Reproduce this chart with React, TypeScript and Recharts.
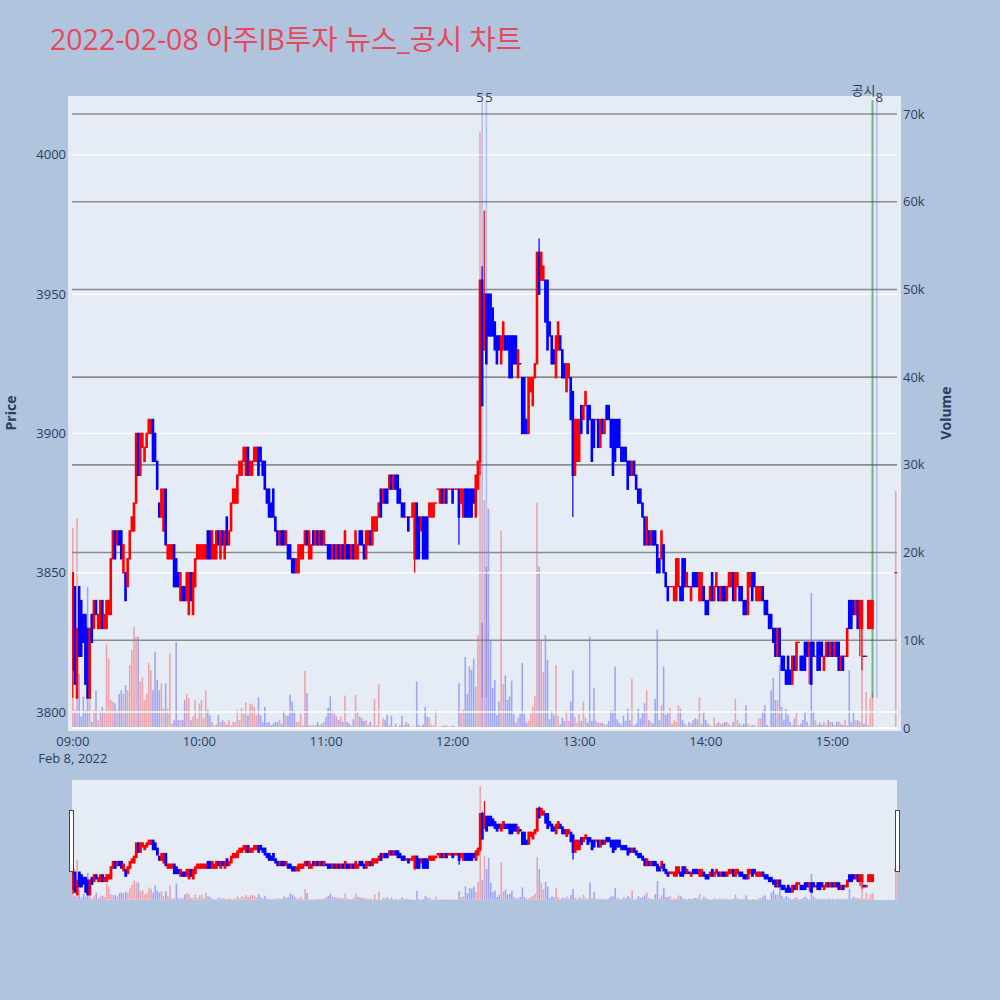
import React from 'react';
import { ComposedChart, Bar, XAxis, YAxis, ReferenceLine } from 'recharts';

// 1-minute candles from 09:00 (index = minutes after open); last entry is the 15:30 closing auction
const opens = [
  3815, 3845, 3805, 3845, 3840, 3835, 3835, 3830, 3805, 3835,
  3830, 3840, 3830, 3830, 3840, 3830, 3830, 3835, 3835, 3855,
  3865, 3860, 3865, 3865, 3850, 3850, 3845, 3855, 3865, 3865,
  3875, 3900, 3885, 3895, 3890, 3895, 3900, 3900, 3905, 3900,
  3890, 3875, 3870, 3865, 3880, 3855, 3855, 3855, 3860, 3855,
  3850, 3840, 3845, 3845, 3840, 3835, 3850, 3835, 3845, 3855,
  3855, 3855, 3855, 3855, 3865, 3865, 3855, 3855, 3855, 3865,
  3855, 3865, 3855, 3870, 3860, 3865, 3875, 3875, 3875, 3885,
  3885, 3890, 3885, 3895, 3885, 3885, 3890, 3890, 3895, 3895,
  3890, 3890, 3880, 3880, 3875, 3880, 3870, 3865, 3860, 3865,
  3865, 3860, 3860, 3860, 3855, 3855, 3850, 3850, 3855, 3855,
  3860, 3865, 3855, 3855, 3865, 3860, 3865, 3860, 3865, 3860,
  3860, 3860, 3860, 3855, 3860, 3855, 3860, 3855, 3860, 3855,
  3860, 3860, 3855, 3860, 3855, 3855, 3865, 3865, 3860, 3855,
  3860, 3865, 3860, 3865, 3865, 3870, 3880, 3875, 3880, 3880,
  3880, 3885, 3880, 3885, 3885, 3880, 3875, 3875, 3870, 3870,
  3870, 3870, 3855, 3875, 3870, 3865, 3870, 3870, 3870, 3870,
  3870, 3870, 3875, 3880, 3875, 3880, 3875, 3880, 3880, 3880,
  3880, 3880, 3880, 3880, 3875, 3870, 3880, 3880, 3880, 3880,
  3880, 3870, 3880, 3890, 3955, 3930, 3950, 3950, 3950, 3945,
  3940, 3935, 3935, 3925, 3930, 3935, 3935, 3935, 3935, 3935,
  3935, 3920, 3925, 3920, 3920, 3905, 3900, 3915, 3910, 3920,
  3925, 3965, 3955, 3955, 3955, 3955, 3940, 3935, 3930, 3920,
  3930, 3935, 3930, 3925, 3915, 3920, 3920, 3915, 3885, 3890,
  3890, 3910, 3905, 3910, 3910, 3910, 3905, 3905, 3905, 3905,
  3895, 3905, 3900, 3910, 3910, 3905, 3905, 3905, 3905, 3905,
  3895, 3895, 3895, 3890, 3890, 3885, 3890, 3885, 3880, 3880,
  3875, 3870, 3860, 3865, 3860, 3865, 3865, 3860, 3855, 3855,
  3860, 3850, 3845, 3845, 3845, 3840, 3840, 3845, 3845, 3855,
  3855, 3845, 3845, 3840, 3850, 3850, 3850, 3840, 3840, 3845,
  3840, 3840, 3840, 3850, 3840, 3845, 3845, 3840, 3845, 3845,
  3840, 3845, 3845, 3850, 3840, 3845, 3845, 3845, 3840, 3840,
  3835, 3845, 3850, 3850, 3840, 3840, 3840, 3845, 3840, 3840,
  3835, 3835, 3830, 3830, 3820, 3830, 3820, 3820, 3815, 3820,
  3815, 3810, 3820, 3815, 3825, 3820, 3820, 3825, 3825, 3820,
  3825, 3825, 3820, 3825, 3825, 3825, 3815, 3820, 3825, 3820,
  3825, 3820, 3825, 3825, 3815, 3820, 3820, 3820, 3840, 3840,
  3840, 3835, 3840, 3830, 3830, 3820, 3820, 3830, 3830, 3830,
  3850,
];

const closes = [
  3850, 3810, 3830, 3820, 3820, 3825, 3810, 3805, 3830, 3825,
  3840, 3835, 3835, 3840, 3830, 3835, 3840, 3840, 3855, 3865,
  3855, 3865, 3860, 3855, 3860, 3840, 3855, 3865, 3870, 3875,
  3900, 3885, 3900, 3900, 3895, 3900, 3905, 3905, 3890, 3890,
  3880, 3870, 3880, 3880, 3860, 3860, 3860, 3860, 3845, 3845,
  3845, 3850, 3840, 3840, 3850, 3850, 3840, 3850, 3855, 3860,
  3860, 3860, 3860, 3860, 3855, 3855, 3865, 3860, 3865, 3860,
  3865, 3860, 3865, 3860, 3865, 3875, 3880, 3880, 3885, 3890,
  3890, 3895, 3895, 3885, 3890, 3890, 3895, 3895, 3885, 3890,
  3885, 3880, 3875, 3870, 3870, 3870, 3865, 3860, 3865, 3860,
  3860, 3865, 3855, 3855, 3850, 3850, 3855, 3860, 3860, 3860,
  3865, 3860, 3865, 3860, 3860, 3865, 3860, 3865, 3860, 3865,
  3860, 3855, 3855, 3860, 3855, 3860, 3855, 3860, 3855, 3865,
  3855, 3855, 3860, 3855, 3865, 3860, 3860, 3860, 3855, 3865,
  3865, 3860, 3870, 3870, 3870, 3875, 3870, 3880, 3875, 3875,
  3885, 3880, 3885, 3880, 3875, 3875, 3870, 3870, 3870, 3865,
  3870, 3875, 3875, 3855, 3855, 3870, 3855, 3855, 3855, 3875,
  3875, 3875, 3875, 3880, 3880, 3875, 3880, 3875, 3880, 3880,
  3875, 3880, 3880, 3870, 3880, 3880, 3870, 3870, 3870, 3870,
  3875, 3885, 3890, 3955, 3910, 3950, 3925, 3935, 3935, 3935,
  3930, 3925, 3930, 3935, 3940, 3930, 3930, 3920, 3920, 3925,
  3925, 3930, 3925, 3900, 3900, 3900, 3920, 3920, 3920, 3925,
  3965, 3950, 3965, 3960, 3940, 3930, 3935, 3925, 3925, 3935,
  3940, 3930, 3920, 3920, 3925, 3925, 3905, 3885, 3905, 3905,
  3905, 3900, 3910, 3915, 3900, 3905, 3890, 3895, 3905, 3895,
  3905, 3900, 3905, 3905, 3905, 3895, 3885, 3890, 3895, 3895,
  3890, 3890, 3890, 3880, 3885, 3890, 3885, 3880, 3875, 3875,
  3870, 3860, 3870, 3860, 3865, 3860, 3860, 3850, 3850, 3865,
  3850, 3845, 3840, 3845, 3845, 3845, 3855, 3855, 3840, 3840,
  3845, 3850, 3845, 3845, 3845, 3845, 3845, 3850, 3850, 3840,
  3835, 3835, 3845, 3840, 3845, 3850, 3840, 3845, 3840, 3840,
  3845, 3850, 3850, 3840, 3850, 3850, 3840, 3840, 3835, 3835,
  3850, 3850, 3840, 3845, 3845, 3845, 3845, 3840, 3835, 3835,
  3830, 3830, 3825, 3820, 3830, 3820, 3815, 3815, 3810, 3810,
  3810, 3820, 3815, 3825, 3825, 3815, 3815, 3815, 3820, 3825,
  3810, 3820, 3820, 3815, 3815, 3820, 3820, 3825, 3820, 3825,
  3820, 3825, 3820, 3815, 3820, 3815, 3820, 3830, 3830, 3830,
  3835, 3840, 3830, 3840, 3840, 3820, 3820, 3840, 3840, 3840,
  3850,
];

const highs = [
  3850, 3845, 3830, 3845, 3840, 3835, 3835, 3830, 3830, 3835,
  3840, 3840, 3835, 3840, 3840, 3835, 3840, 3840, 3855, 3865,
  3865, 3865, 3865, 3865, 3860, 3850, 3855, 3865, 3870, 3875,
  3900, 3900, 3900, 3900, 3895, 3900, 3905, 3905, 3905, 3900,
  3890, 3875, 3880, 3880, 3880, 3860, 3860, 3860, 3860, 3855,
  3850, 3850, 3845, 3845, 3850, 3850, 3850, 3850, 3855, 3860,
  3860, 3860, 3860, 3860, 3865, 3865, 3865, 3860, 3865, 3865,
  3865, 3865, 3865, 3870, 3865, 3875, 3880, 3880, 3885, 3890,
  3890, 3895, 3895, 3895, 3890, 3890, 3895, 3895, 3895, 3895,
  3890, 3890, 3880, 3880, 3875, 3880, 3870, 3865, 3865, 3865,
  3865, 3865, 3860, 3860, 3855, 3855, 3855, 3860, 3860, 3860,
  3865, 3865, 3865, 3860, 3865, 3865, 3865, 3865, 3865, 3865,
  3860, 3860, 3860, 3860, 3860, 3860, 3860, 3860, 3860, 3865,
  3860, 3860, 3860, 3860, 3865, 3860, 3865, 3865, 3860, 3865,
  3865, 3865, 3870, 3870, 3870, 3875, 3880, 3880, 3880, 3880,
  3885, 3885, 3885, 3885, 3885, 3880, 3875, 3875, 3870, 3870,
  3870, 3875, 3875, 3875, 3870, 3870, 3870, 3870, 3870, 3875,
  3875, 3875, 3875, 3880, 3880, 3880, 3880, 3880, 3880, 3880,
  3880, 3880, 3880, 3880, 3880, 3880, 3880, 3880, 3880, 3880,
  3880, 3885, 3890, 3955, 3960, 3980, 3950, 3950, 3950, 3945,
  3940, 3935, 3935, 3935, 3940, 3935, 3935, 3935, 3935, 3935,
  3935, 3930, 3925, 3920, 3920, 3905, 3920, 3920, 3920, 3925,
  3965, 3970, 3965, 3960, 3955, 3955, 3940, 3935, 3930, 3935,
  3940, 3935, 3930, 3925, 3925, 3925, 3920, 3915, 3905, 3905,
  3905, 3910, 3910, 3915, 3910, 3910, 3905, 3905, 3905, 3905,
  3905, 3905, 3905, 3910, 3910, 3905, 3905, 3905, 3905, 3905,
  3895, 3895, 3895, 3890, 3890, 3890, 3890, 3885, 3880, 3880,
  3875, 3870, 3870, 3865, 3865, 3865, 3865, 3860, 3855, 3865,
  3860, 3850, 3845, 3845, 3845, 3845, 3855, 3855, 3845, 3855,
  3855, 3850, 3845, 3845, 3850, 3850, 3850, 3850, 3850, 3845,
  3840, 3840, 3845, 3850, 3845, 3850, 3845, 3845, 3845, 3845,
  3845, 3850, 3850, 3850, 3850, 3850, 3845, 3845, 3840, 3840,
  3850, 3850, 3850, 3850, 3845, 3845, 3845, 3845, 3840, 3840,
  3835, 3835, 3830, 3830, 3830, 3830, 3820, 3820, 3815, 3820,
  3815, 3820, 3820, 3825, 3825, 3820, 3820, 3825, 3825, 3825,
  3825, 3825, 3820, 3825, 3825, 3825, 3820, 3825, 3825, 3825,
  3825, 3825, 3825, 3825, 3820, 3820, 3820, 3830, 3840, 3840,
  3840, 3840, 3840, 3840, 3840, 3820, 3820, 3840, 3840, 3840,
  3850,
];

const lows = [
  3805, 3810, 3805, 3820, 3820, 3825, 3810, 3805, 3805, 3825,
  3830, 3835, 3830, 3830, 3830, 3830, 3830, 3835, 3835, 3855,
  3855, 3860, 3860, 3855, 3850, 3840, 3845, 3855, 3865, 3865,
  3875, 3885, 3885, 3895, 3890, 3895, 3900, 3900, 3890, 3890,
  3880, 3870, 3870, 3865, 3860, 3855, 3855, 3855, 3845, 3845,
  3845, 3840, 3840, 3840, 3840, 3835, 3840, 3835, 3845, 3855,
  3855, 3855, 3855, 3855, 3855, 3855, 3855, 3855, 3855, 3860,
  3855, 3860, 3855, 3860, 3860, 3865, 3875, 3875, 3875, 3885,
  3885, 3890, 3885, 3885, 3885, 3885, 3890, 3890, 3885, 3890,
  3885, 3880, 3875, 3870, 3870, 3870, 3865, 3860, 3860, 3860,
  3860, 3860, 3855, 3855, 3850, 3850, 3850, 3850, 3855, 3855,
  3860, 3860, 3855, 3855, 3860, 3860, 3860, 3860, 3860, 3860,
  3860, 3855, 3855, 3855, 3855, 3855, 3855, 3855, 3855, 3855,
  3855, 3855, 3855, 3855, 3855, 3855, 3860, 3860, 3855, 3855,
  3860, 3860, 3860, 3865, 3865, 3870, 3870, 3875, 3875, 3875,
  3880, 3880, 3880, 3880, 3875, 3875, 3870, 3870, 3870, 3865,
  3870, 3870, 3850, 3855, 3855, 3865, 3855, 3855, 3855, 3870,
  3870, 3870, 3875, 3880, 3875, 3875, 3875, 3875, 3880, 3880,
  3875, 3880, 3880, 3860, 3875, 3870, 3870, 3870, 3870, 3870,
  3875, 3870, 3880, 3885, 3910, 3930, 3925, 3935, 3935, 3935,
  3930, 3925, 3930, 3925, 3930, 3930, 3930, 3920, 3920, 3925,
  3925, 3920, 3925, 3900, 3900, 3900, 3900, 3915, 3910, 3920,
  3925, 3950, 3955, 3955, 3940, 3930, 3935, 3925, 3925, 3920,
  3930, 3930, 3920, 3920, 3915, 3920, 3905, 3870, 3885, 3890,
  3890, 3900, 3905, 3910, 3900, 3905, 3890, 3895, 3905, 3895,
  3895, 3900, 3900, 3905, 3905, 3895, 3885, 3890, 3895, 3895,
  3890, 3890, 3890, 3880, 3885, 3885, 3885, 3880, 3875, 3875,
  3870, 3860, 3860, 3860, 3860, 3860, 3860, 3850, 3850, 3855,
  3850, 3845, 3840, 3845, 3845, 3840, 3840, 3845, 3840, 3840,
  3845, 3845, 3845, 3840, 3845, 3845, 3845, 3840, 3840, 3840,
  3835, 3835, 3840, 3840, 3840, 3845, 3840, 3840, 3840, 3840,
  3840, 3845, 3845, 3840, 3840, 3845, 3840, 3840, 3835, 3835,
  3835, 3845, 3840, 3845, 3840, 3840, 3840, 3840, 3835, 3835,
  3830, 3830, 3825, 3820, 3820, 3820, 3815, 3815, 3810, 3810,
  3810, 3810, 3815, 3815, 3825, 3815, 3815, 3815, 3820, 3810,
  3810, 3820, 3820, 3815, 3815, 3820, 3815, 3820, 3820, 3820,
  3820, 3820, 3820, 3815, 3815, 3815, 3820, 3820, 3830, 3830,
  3835, 3835, 3830, 3820, 3815, 3820, 3820, 3830, 3830, 3830,
  3850,
];

const volumes = [
  22800, 2000, 23900, 6200, 1300, 3600, 2000, 16100, 4900, 700,
  2000, 4300, 900, 2000, 2400, 1700, 9600, 7900, 3200, 3000,
  2800, 2000, 3900, 4300, 3900, 4900, 4300, 7200, 8900, 11500,
  10400, 10400, 5300, 5800, 3200, 3900, 7400, 6600, 4300, 8700,
  5500, 4300, 5100, 2200, 5100, 2200, 8500, 500, 900, 9800,
  900, 900, 900, 3200, 3900, 3400, 900, 1300, 3200, 1100,
  2800, 3200, 1100, 4300, 2100, 1450, 700, 300, 400, 1500,
  700, 900, 700, 400, 900, 300, 700, 700, 2100, 900,
  2300, 1600, 2900, 1450, 2800, 2700, 2400, 1450, 3500, 1450,
  700, 2400, 600, 700, 300, 500, 700, 700, 900, 500,
  2000, 1450, 1450, 3800, 3000, 2000, 700, 700, 1600, 300,
  6500, 4000, 300, 300, 300, 300, 700, 300, 500, 700,
  1300, 2300, 3600, 2000, 1600, 1300, 900, 1300, 700, 3700,
  700, 500, 300, 1000, 3800, 1900, 1300, 1100, 800, 900,
  400, 700, 300, 3300, 300, 5000, 100, 1100, 900, 1500,
  400, 1400, 200, 500, 100, 300, 1400, 300, 700, 500,
  200, 200, 100, 5300, 400, 200, 400, 2400, 1300, 1200,
  400, 300, 2000, 100, 200, 200, 300, 300, 200, 100,
  300, 200, 100, 5100, 1700, 2100, 8100, 3900, 7000, 6600,
  7900, 4700, 10600, 68000, 12000, 26000, 18400, 25000, 10000, 4600,
  5500, 1500, 3000, 22500, 5000, 6000, 3200, 3600, 5400, 1600,
  600, 1200, 1600, 7400, 1600, 600, 800, 1600, 2400, 3600,
  25700, 18400, 10000, 6400, 10600, 7800, 1000, 2000, 1500, 7200,
  1400, 400, 1200, 800, 2000, 800, 3000, 6600, 1200, 600,
  1600, 800, 3000, 1200, 600, 10400, 800, 4600, 800, 600,
  600, 600, 400, 400, 800, 2000, 2000, 7000, 1000, 600,
  400, 1400, 800, 2200, 900, 5600, 300, 500, 2200, 1100,
  1700, 2800, 4300, 900, 700, 500, 3300, 11200, 900, 2600,
  7000, 1500, 1700, 2300, 500, 900, 700, 2600, 2200, 900,
  500, 300, 700, 500, 900, 1100, 1000, 3500, 500, 1900,
  900, 500, 300, 200, 1200, 500, 700, 500, 500, 700,
  700, 500, 300, 700, 3300, 900, 500, 300, 500, 2600,
  500, 300, 300, 350, 150, 1100, 1100, 2000, 2600, 350,
  150, 4300, 5700, 3200, 3200, 7200, 2400, 900, 2200, 1500,
  700, 350, 1100, 1700, 350, 500, 900, 1900, 700, 350,
  15400, 1900, 900, 350, 600, 350, 700, 350, 900, 700,
  700, 350, 700, 700, 500, 350, 900, 350, 6600, 700,
  1700, 900, 900, 700, 14600, 500, 4100, 350, 3400, 4000,
  27000,
];

const auctionMinute = 390; // 15:30 closing auction

const timeTicks = [0, 60, 120, 180, 240, 300, 360];
const timeLabels = ['09:00', '10:00', '11:00', '12:00', '13:00', '14:00', '15:00'];
const dateLabel = 'Feb 8, 2022';
const priceTicks = [3800, 3850, 3900, 3950, 4000];
const volumeTicks = [0, 10000, 20000, 30000, 40000, 50000, 60000, 70000];

// news / disclosure markers (minutes after 09:00)
const newsMinutes = [194, 196, 381];
const newsLabels = ['5', '5', '8'];
const newsAnchors = ['end', 'start', 'start'];
const disclosureMinutes = [379];
const disclosureLabels = ['공시'];
const markerFloor = 3805;

const title = '2022-02-08 아주IB투자 뉴스_공시 차트';

const priceDomain: [number, number] = [3793.9, 4019.7];
const volumeDomain: [number, number] = [-114, 71596];
const mainDomain: [number, number] = [-0.4, 390.6];
const sliderDomain: [number, number] = [-0.5, 390.5];

const FONT = '"Open Sans", "Noto Sans CJK KR", sans-serif';
const TEXT = '#2a3f5f';
const UP = '#ff0000';
const DOWN = '#0000ff';

const data = opens.map((open, i) => {
  const close = closes[i];
  const prev = i > 0 ? closes[i - 1] : open;
  const up = close > open || (close === open && close >= prev);
  return {
    minute: i < opens.length - 1 ? i : auctionMinute,
    open,
    close,
    high: highs[i],
    low: lows[i],
    volume: volumes[i],
    up,
  };
});

const Candle = (props: any) => {
  const { x, y, width, height, payload, bodyWidth = 2.6, pad = 0.7 } = props;
  if (x == null || y == null) return null;
  const cx = x + width / 2;
  const top = Math.min(y, y + height);
  const bottom = Math.max(y, y + height);
  const span = payload.high - payload.low;
  const unit = span > 0 ? (bottom - top) / span : 0;
  const yo = top + (payload.high - payload.open) * unit;
  const yc = top + (payload.high - payload.close) * unit;
  const color = payload.up ? UP : DOWN;
  const bTop = Math.min(yo, yc) - pad;
  const bH = Math.abs(yo - yc) + pad * 2;
  return (
    <g>
      <line x1={cx} x2={cx} y1={top} y2={bottom} stroke={color} strokeWidth={1.2} />
      <rect x={cx - bodyWidth / 2} y={bTop} width={bodyWidth} height={bH} fill={color} />
    </g>
  );
};

const VolumeBar = (props: any) => {
  const { x, y, width, height, payload } = props;
  if (x == null || y == null) return null;
  const cx = x + width / 2;
  const top = Math.min(y, y + height);
  return (
    <rect
      x={cx - 0.8}
      y={top}
      width={1.6}
      height={Math.abs(height)}
      fill={payload.up ? 'rgba(255,0,0,0.3)' : 'rgba(0,0,255,0.3)'}
    />
  );
};

const TimeTick = (props: any) => {
  const { x, y, payload } = props;
  const idx = timeTicks.indexOf(payload.value);
  return (
    <g>
      <text x={x} y={y} dy={9} textAnchor="middle" fill={TEXT} fontSize={13}>
        {timeLabels[idx]}
      </text>
      {idx === 0 && (
        <text x={x} y={y} dy={26} textAnchor="middle" fill={TEXT} fontSize={13}>
          {dateLabel}
        </text>
      )}
    </g>
  );
};

const markerLabel = (text: string, dy: number, anchor: string, dx: number) => (p: any) => {
  const vb = p.viewBox || {};
  return (
    <text
      x={(vb.x ?? 0) + dx}
      y={(vb.y ?? 0) + dy}
      textAnchor={anchor as any}
      dominantBaseline="central"
      fill={TEXT}
      fontSize={13}
    >
      {text}
    </text>
  );
};

const CandleLayer = ({ height, margin, domain, bodyWidth, pad }: any) => (
  <ComposedChart width={1000} height={height} data={data} margin={margin}>
    <XAxis dataKey="minute" type="number" domain={domain} allowDataOverflow hide />
    <YAxis yAxisId="price" domain={priceDomain} allowDataOverflow hide />
    <Bar
      yAxisId="price"
      dataKey={(d: any) => [d.low, d.high]}
      shape={<Candle bodyWidth={bodyWidth} pad={pad} />}
      barSize={2}
      isAnimationActive={false}
    />
  </ComposedChart>
);

const VolumeLayer = ({ height, margin, domain }: any) => (
  <ComposedChart width={1000} height={height} data={data} margin={margin}>
    <XAxis dataKey="minute" type="number" domain={domain} allowDataOverflow hide />
    <YAxis yAxisId="vol" domain={volumeDomain} allowDataOverflow hide />
    <Bar yAxisId="vol" dataKey="volume" shape={<VolumeBar />} barSize={2} isAnimationActive={false} />
  </ComposedChart>
);

export default function App() {
  const abs = (left: number, top: number): React.CSSProperties => ({ position: 'absolute', left, top });
  return (
    <div
      style={{
        position: 'absolute',
        left: 0,
        top: 0,
        width: 1000,
        height: 1000,
        background: '#b0c4de',
        fontFamily: FONT,
        overflow: 'hidden',
      }}
    >
      {/* main plot background */}
      <div style={{ ...abs(68, 96), width: 833, height: 635, background: '#e5ecf6' }} />

      {/* axes, grid lines, volume, markers */}
      <div style={abs(0, 0)}>
        <ComposedChart width={1000} height={800} data={data} margin={{ top: 100, right: 43, bottom: 41, left: 8 }}>
          <XAxis
            dataKey="minute"
            type="number"
            domain={mainDomain}
            allowDataOverflow
            ticks={timeTicks}
            interval={0}
            tick={<TimeTick />}
            axisLine={false}
            tickLine={false}
            height={30}
          />
          <YAxis
            yAxisId="price"
            orientation="left"
            width={64}
            domain={priceDomain}
            allowDataOverflow
            ticks={priceTicks}
            interval={0}
            axisLine={false}
            tickLine={false}
            tickSize={4}
            tickMargin={2}
            tick={{ fill: TEXT, fontSize: 13 }}
          />
          <YAxis
            yAxisId="vol"
            orientation="right"
            width={60}
            domain={volumeDomain}
            allowDataOverflow
            ticks={volumeTicks}
            interval={0}
            axisLine={false}
            tickLine={false}
            tickSize={4}
            tickMargin={2}
            tick={{ fill: TEXT, fontSize: 13 }}
            tickFormatter={(v: number) => (v === 0 ? '0' : `${v / 1000}k`)}
          />
          {priceTicks.map((t) => (
            <ReferenceLine key={`pg-${t}`} yAxisId="price" y={t} stroke="#ffffff" strokeWidth={1.3} />
          ))}
          {volumeTicks.map((t) => (
            <ReferenceLine
              key={`vg-${t}`}
              yAxisId="vol"
              y={t}
              stroke={t === 0 ? '#ffffff' : '#8c8c8c'}
              strokeWidth={t === 0 ? 2 : 1.6}
            />
          ))}
          <Bar yAxisId="vol" dataKey="volume" shape={<VolumeBar />} barSize={2} isAnimationActive={false} />
          {disclosureMinutes.map((m, i) => (
            <ReferenceLine
              key={`d-${m}`}
              yAxisId="price"
              segment={[{ x: m, y: markerFloor }, { x: m, y: priceDomain[1] }]}
              stroke="rgba(0,128,0,0.5)"
              strokeWidth={2}
              label={markerLabel(disclosureLabels[i], -10, 'end', 3)}
            />
          ))}
          {newsMinutes.map((m, i) => (
            <ReferenceLine
              key={`n-${m}`}
              yAxisId="price"
              segment={[{ x: m, y: markerFloor }, { x: m, y: priceDomain[1] }]}
              stroke="rgba(60,90,230,0.3)"
              strokeWidth={1.6}
              label={markerLabel(newsLabels[i], -3, newsAnchors[i], newsAnchors[i] === 'end' ? 1.5 : -1.2)}
            />
          ))}
        </ComposedChart>
      </div>

      {/* candles */}
      <div style={abs(0, 0)}>
        <CandleLayer
          height={800}
          margin={{ top: 100, right: 103, bottom: 71, left: 72 }}
          domain={mainDomain}
          bodyWidth={2.6}
          pad={0.7}
        />
      </div>

      {/* range slider */}
      <div style={{ ...abs(72, 780), width: 825, height: 120, background: '#e5ecf6' }} />
      <div style={abs(0, 780)}>
        <VolumeLayer height={120} margin={{ top: 0, right: 103, bottom: 0, left: 72 }} domain={sliderDomain} />
      </div>
      <div style={abs(0, 780)}>
        <CandleLayer
          height={120}
          margin={{ top: 0, right: 103, bottom: 0, left: 72 }}
          domain={sliderDomain}
          bodyWidth={2.8}
          pad={1.3}
        />
      </div>
      <div style={{ ...abs(69, 810), width: 3, height: 60, background: '#fff', border: '1px solid #444' }} />
      <div style={{ ...abs(895, 810), width: 3, height: 60, background: '#fff', border: '1px solid #444' }} />

      {/* titles */}
      <svg width={1000} height={1000} style={{ ...abs(0, 0), pointerEvents: 'none' }}>
        <text x={50} y={50} fontSize={28.5} fill="#e8485c" fontFamily={FONT}>
          {title}
        </text>
        <text
          x={10}
          y={413}
          transform="rotate(-90 10 413)"
          textAnchor="middle"
          dominantBaseline="central"
          fontSize={14}
          fontWeight="bold"
          fill={TEXT}
          fontFamily={FONT}
        >
          Price
        </text>
        <text
          x={945}
          y={413}
          transform="rotate(-90 945 413)"
          textAnchor="middle"
          dominantBaseline="central"
          fontSize={14}
          fontWeight="bold"
          fill={TEXT}
          fontFamily={FONT}
        >
          Volume
        </text>
      </svg>
    </div>
  );
}
